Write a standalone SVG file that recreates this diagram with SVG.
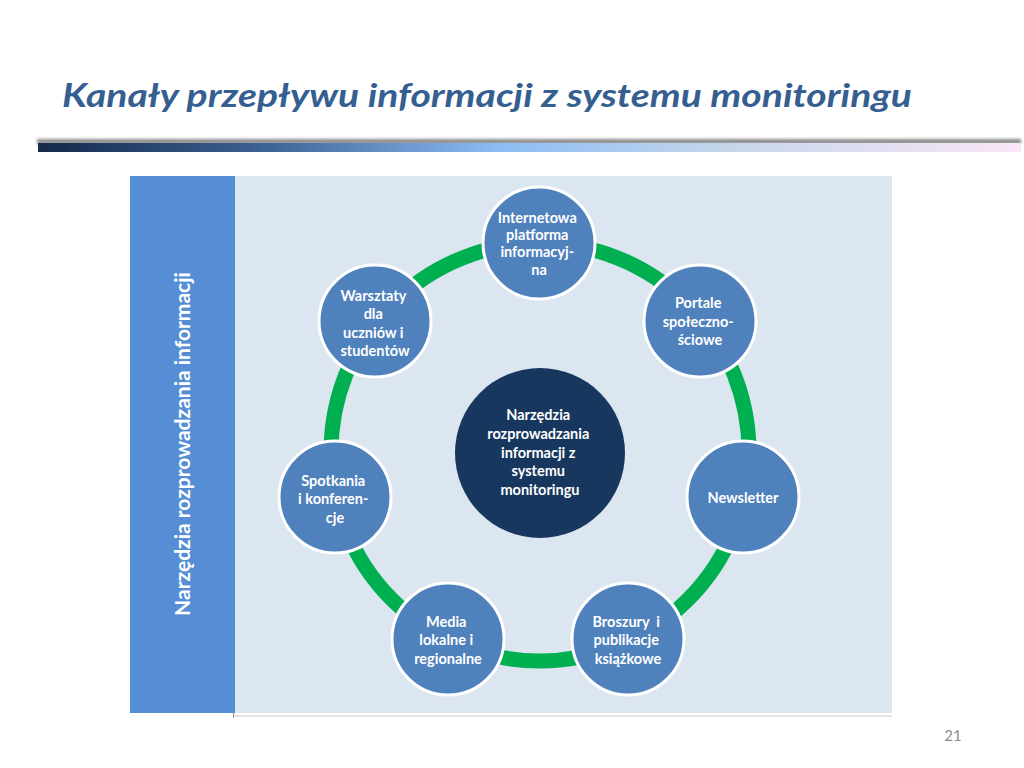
<svg xmlns="http://www.w3.org/2000/svg" width="1024" height="768" viewBox="0 0 1024 768">
  <defs>
    <linearGradient id="barGrad" x1="0" y1="0" x2="1" y2="0">
      <stop offset="0" stop-color="#15294a"/>
      <stop offset="0.22" stop-color="#3a5f90"/>
      <stop offset="0.47" stop-color="#8bbdf5"/>
      <stop offset="0.7" stop-color="#c6d6ea"/>
      <stop offset="0.85" stop-color="#e0def1"/>
      <stop offset="1" stop-color="#fae6f6"/>
    </linearGradient>
    <filter id="blur" x="-5%" y="-200%" width="110%" height="500%">
      <feGaussianBlur stdDeviation="1.5"/>
    </filter>
    <style>
      .node { fill: #4f81bd; stroke: #ffffff; stroke-width: 3; }
      .hub { fill: #17375e; stroke: none; }
      .lbl { font-family: Lato, "Open Sans", "Liberation Sans", sans-serif; font-weight: bold; font-size: 14.5px; fill: #ffffff; text-anchor: middle; }
      .ring { fill: none; stroke: #00b050; stroke-width: 15; }
      .side { font-family: Lato, "Open Sans", "Liberation Sans", sans-serif; font-weight: bold; font-size: 21px; fill: #ffffff; text-anchor: middle; }
    </style>
  </defs>

  <rect x="0" y="0" width="1024" height="768" fill="#ffffff"/>

  <!-- title -->
  <g id="title">
    <text x="62" y="107" font-family="Lato, 'Open Sans', 'Liberation Sans', sans-serif" font-weight="bold" font-style="italic" font-size="32" fill="#365f91" textLength="850" lengthAdjust="spacingAndGlyphs">Kanały przepływu informacji z systemu monitoringu</text>
  </g>

  <!-- header bar -->
  <g id="header-bar">
    <rect x="37" y="139" width="984" height="5" fill="#8a8a8a" filter="url(#blur)"/>
    <rect x="38" y="143" width="983" height="9" fill="url(#barGrad)"/>
  </g>

  <!-- panel -->
  <g id="panel">
    <rect x="130" y="176" width="762" height="537" fill="#dce6f1"/>
    <rect x="130" y="176" width="105" height="537" fill="#558ed5"/>
    <line x1="233" y1="716" x2="892" y2="716" stroke="#c8c8c8" stroke-width="1"/>
    <line x1="233.5" y1="713" x2="233.5" y2="718" stroke="#a0a0a0" stroke-width="1"/>
    <text class="side" transform="translate(190,444) rotate(-90)" x="0" y="0">Narzędzia rozprowadzania informacji</text>
  </g>

  <!-- connectors -->
  <g id="connectors">
    <circle class="ring" cx="540" cy="452" r="209"/>
  </g>

  <!-- hub -->
  <g id="hub">
    <circle class="hub" cx="540" cy="453" r="85"/>
    <text class="lbl">
      <tspan x="540" y="420">Narzędzia</tspan>
      <tspan x="540" y="439">rozprowadzania</tspan>
      <tspan x="540" y="458">informacji z</tspan>
      <tspan x="540" y="476">systemu</tspan>
      <tspan x="540" y="495">monitoringu</tspan>
    </text>
  </g>

  <g id="node-internetowa">
    <circle class="node" cx="539" cy="243" r="56"/>
    <text class="lbl">
      <tspan x="539" y="223">Internetowa</tspan>
      <tspan x="539" y="240">platforma</tspan>
      <tspan x="539" y="257">informacyj-</tspan>
      <tspan x="539" y="275">na</tspan>
    </text>
  </g>

  <g id="node-portale">
    <circle class="node" cx="700" cy="321" r="56"/>
    <text class="lbl">
      <tspan x="700" y="308">Portale</tspan>
      <tspan x="700" y="327">społeczno-</tspan>
      <tspan x="700" y="345">ściowe</tspan>
    </text>
  </g>

  <g id="node-newsletter">
    <circle class="node" cx="743" cy="497" r="56"/>
    <text class="lbl">
      <tspan x="743" y="503">Newsletter</tspan>
    </text>
  </g>

  <g id="node-broszury">
    <circle class="node" cx="628" cy="639" r="56"/>
    <text class="lbl">
      <tspan x="628" y="627" xml:space="preserve">Broszury  i</tspan>
      <tspan x="628" y="645">publikacje</tspan>
      <tspan x="628" y="664">książkowe</tspan>
    </text>
  </g>

  <g id="node-media">
    <circle class="node" cx="448" cy="639" r="56"/>
    <text class="lbl">
      <tspan x="448" y="627">Media</tspan>
      <tspan x="448" y="645">lokalne i</tspan>
      <tspan x="448" y="664">regionalne</tspan>
    </text>
  </g>

  <g id="node-spotkania">
    <circle class="node" cx="335" cy="497" r="56"/>
    <text class="lbl">
      <tspan x="335" y="486">Spotkania</tspan>
      <tspan x="335" y="504">i konferen-</tspan>
      <tspan x="335" y="523">cje</tspan>
    </text>
  </g>

  <g id="node-warsztaty">
    <circle class="node" cx="375" cy="321" r="56"/>
    <text class="lbl">
      <tspan x="375" y="301">Warsztaty</tspan>
      <tspan x="375" y="319">dla</tspan>
      <tspan x="375" y="338">uczniów i</tspan>
      <tspan x="375" y="356">studentów</tspan>
    </text>
  </g>

  <g id="page-number">
    <text x="953" y="741" font-family="Lato, 'Open Sans', 'Liberation Sans', sans-serif" font-size="15" fill="#8c8c8c" text-anchor="middle">21</text>
  </g>
</svg>
